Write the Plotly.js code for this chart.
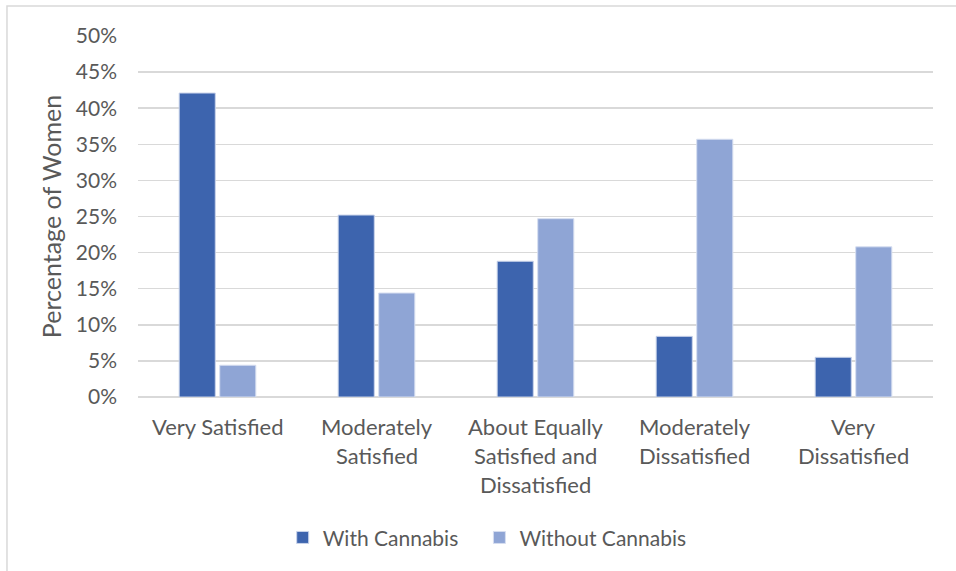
<!DOCTYPE html>
<html>
<head>
<meta charset="utf-8">
<script src="https://cdn.plot.ly/plotly-3.0.1.min.js"></script>
<style>
  html, body { margin: 0; padding: 0; background: #fff; }
  #chart { width: 956px; height: 571px; }
</style>
</head>
<body>
<div id="chart"></div>
<script>
// Satisfaction categories (x axis); "<br>" marks a line break in the label
const categories = [
  "Very Satisfied",
  "Moderately<br>Satisfied",
  "About Equally<br>Satisfied and<br>Dissatisfied",
  "Moderately<br>Dissatisfied",
  "Very<br>Dissatisfied"
];

// Series names and the share of women in each category (fractions)
const seriesNames = ["With Cannabis", "Without Cannabis"];
const withCannabis = [0.421, 0.252, 0.188, 0.084, 0.055];
const withoutCannabis = [0.044, 0.144, 0.247, 0.357, 0.208];

const yTickVals = [0, 0.05, 0.10, 0.15, 0.20, 0.25, 0.30, 0.35, 0.40, 0.45, 0.50];
const yTickText = ["0%", "5%", "10%", "15%", "20%", "25%", "30%", "35%", "40%", "45%", "50%"];

const fontFamily = "Lato, Open Sans, sans-serif";
const textColor = "#595959";
const labelSize = 22;
const lineStep = 29;
// a little trailing room after the first legend entry
const legendPad = "\u00a0\u00a0\u00a0";

const traces = [
  {
    type: "bar",
    name: seriesNames[0] + legendPad,
    x: categories,
    y: withCannabis,
    marker: { color: "#3D64AE", line: { color: "#C9D3EA", width: 1 } },
    hoverinfo: "skip"
  },
  {
    type: "bar",
    name: seriesNames[1],
    x: categories,
    y: withoutCannabis,
    marker: { color: "#8FA5D5", line: { color: "#D6DEF0", width: 1 } },
    hoverinfo: "skip"
  }
];

// Category labels drawn line by line under each group, with wider line spacing
const categoryLabels = [];
categories.forEach(function (cat) {
  cat.split("<br>").forEach(function (line, i) {
    categoryLabels.push({
      xref: "x", yref: "y",
      x: cat, y: 0,
      text: line,
      showarrow: false,
      xanchor: "center",
      yanchor: "middle",
      yshift: -(29 + i * lineStep),
      font: { family: fontFamily, size: labelSize, color: textColor }
    });
  });
});

const layout = {
  width: 956,
  height: 571,
  paper_bgcolor: "#ffffff",
  plot_bgcolor: "#ffffff",
  margin: { l: 138, r: 23, t: 36, b: 174 },
  barmode: "group",
  bargap: 0.49,
  bargroupgap: 0.11,
  font: { family: fontFamily, color: textColor, size: labelSize },
  xaxis: {
    type: "category",
    showgrid: false,
    zeroline: false,
    showline: false,
    ticks: "",
    showticklabels: false
  },
  yaxis: {
    range: [0, 0.5],
    tickvals: yTickVals,
    ticktext: yTickText,
    showgrid: true,
    gridcolor: "#D9D9D9",
    gridwidth: 1.5,
    zeroline: true,
    zerolinecolor: "#D9D9D9",
    zerolinewidth: 1.5,
    showline: false,
    ticks: "",
    tickfont: { size: 21, color: textColor },
    ticklabelstandoff: 20,
    title: {
      text: "Percentage of Women",
      font: { size: 25, color: textColor },
      standoff: 7
    }
  },
  legend: {
    orientation: "h",
    x: 0.182,
    xanchor: "left",
    y: -0.39,
    yanchor: "middle",
    font: { size: 21, color: textColor },
    itemwidth: 30,
    traceorder: "normal"
  },
  annotations: categoryLabels,
  shapes: [
    {
      type: "rect",
      xref: "paper", yref: "paper",
      x0: -0.1648, x1: 1.05,
      y0: -0.5, y1: 1.0831,
      line: { color: "#D9D9D9", width: 1.5 },
      fillcolor: "rgba(0,0,0,0)",
      layer: "below"
    }
  ],
  showlegend: true
};

Plotly.newPlot("chart", traces, layout, { displayModeBar: false, staticPlot: true });
</script>
</body>
</html>
